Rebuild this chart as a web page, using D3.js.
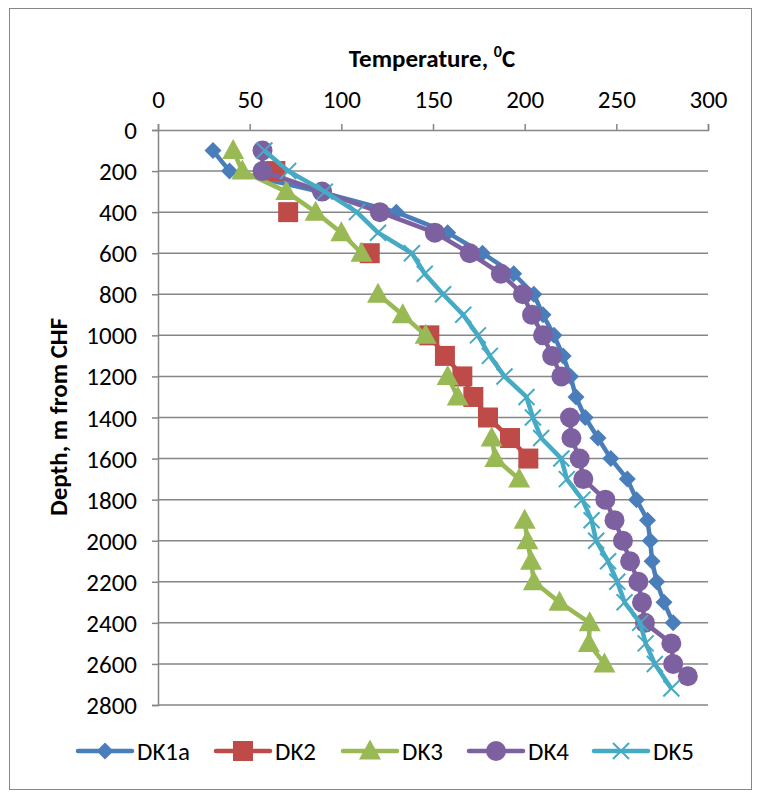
<!DOCTYPE html>
<html><head><meta charset="utf-8">
<script src="https://cdn.jsdelivr.net/npm/d3@7/dist/d3.min.js"></script>
<style>body{margin:0;background:#fff}svg{display:block}text{font-family:Carlito,Calibri,"Open Sans",sans-serif;fill:#000}</style>
</head><body><svg id="c" width="757" height="798"></svg>
<script>
// null = blank cell (gap in the line)
const seriesNames = ["DK1a","DK2","DK3","DK4","DK5"];
const dk1aDepth = [100,200,300,400,500,600,700,800,900,1000,1100,1200,1300,1400,1500,1600,1700,1800,1900,2000,2100,2200,2300,2400];
const dk1aTemp  = [30,39,88,130,158,177,194,205,210,216,221,225,228,233,240,247,256,261,267,268.5,269.5,272,276,281];
const dk2Depth = [200,300,400,500,600,700,1000,1100,1200,1300,1400,1500,1600];
const dk2Temp  = [64,null,71,null,115.5,null,148,156.5,166,172,180,192,202];
const dk3Depth = [100,200,300,400,500,600,700,800,900,1000,1100,1200,1300,1400,1500,1600,1700,1800,1900,2000,2100,2200,2300,2400,2500,2600];
const dk3Temp  = [41,46,70,86,100,111,null,120,133.5,146,null,158,163.5,null,182,184,197,null,200,201.5,203.5,205,219,235.5,235,243.5];
const dk4Depth = [100,200,300,400,500,600,700,800,900,1000,1100,1200,1300,1400,1500,1600,1700,1800,1900,2000,2100,2200,2300,2400,2500,2600,2660];
const dk4Temp  = [57,57,89.5,121,151,170,187,199,204,210,215,220,null,224.7,225.5,230,232,244,249,253.6,257.5,262,264,265.6,280,281,289];
const dk5Depth = [100,200,300,400,500,600,700,800,900,1000,1100,1200,1300,1400,1500,1600,1700,1800,1900,2000,2100,2200,2300,2400,2500,2600,2720];
const dk5Temp  = [58,71,91,108.5,120,138.5,145.5,155.5,166.5,174.5,181,189,201,204.5,209,220,223,231.5,236.5,239,245.5,250.5,254.5,263,266,271,280];
const xTicks = [0,50,100,150,200,250,300];
const yTicks = [0,200,400,600,800,1000,1200,1400,1600,1800,2000,2200,2400,2600,2800];

const colors = ["#4A7EBB","#BE4B48","#98B954","#7D60A0","#46AAC5"];
const shapes = ["diamond","square","triangle","circle","x"];
const series = [
  {d:dk1aDepth,t:dk1aTemp},{d:dk2Depth,t:dk2Temp},{d:dk3Depth,t:dk3Temp},
  {d:dk4Depth,t:dk4Temp},{d:dk5Depth,t:dk5Temp}
].map((s,i)=>({name:seriesNames[i],color:colors[i],shape:shapes[i],pts:s.d.map((v,j)=>({depth:v,temp:s.t[j]}))}));

const FS = 25;
const svg = d3.select("#c");
svg.append("rect").attr("x",9.5).attr("y",8.5).attr("width",742).attr("height",781)
  .attr("fill","#fff").attr("stroke","#868686").attr("stroke-width",1);

const L=158,R=708,T=130,B=705;
const x = d3.scaleLinear().domain([0,300]).range([L,R]);
const y = d3.scaleLinear().domain([0,2800]).range([T,B]);

svg.append("g").selectAll("line").data(yTicks.slice(1)).join("line")
  .attr("x1",L).attr("x2",R).attr("y1",d=>y(d)).attr("y2",d=>y(d))
  .attr("stroke","#868686").attr("stroke-width",1.5);

const xa = svg.append("g").attr("transform",`translate(0,${T})`)
  .call(d3.axisTop(x).tickValues(xTicks).tickSize(6).tickPadding(16).tickFormat(d3.format("d")));
const ya = svg.append("g").attr("transform",`translate(${L},0)`)
  .call(d3.axisLeft(y).tickValues(yTicks).tickSize(6).tickPadding(15).tickFormat(d3.format("d")));
[xa,ya].forEach(a=>{
  a.select(".domain").attr("stroke","#868686").attr("stroke-width",1.5);
  a.selectAll(".tick line").attr("stroke","#868686").attr("stroke-width",1.5);
  a.selectAll(".tick text").attr("font-size",FS).attr("fill","#000")
   .style("font-family",'Carlito,Calibri,"Open Sans",sans-serif');
});
ya.selectAll(".tick text").attr("dy","0.34em");

const tt = svg.append("text").attr("x",432).attr("y",67).attr("text-anchor","middle")
  .attr("font-size",FS).attr("font-weight","bold");
tt.append("tspan").text("Temperature, ");
tt.append("tspan").attr("font-size",16).attr("dy",-10).text("0");
tt.append("tspan").attr("dy",10).text("C");
svg.append("text").attr("transform","translate(67,417) rotate(-90)").attr("text-anchor","middle")
  .attr("font-size",FS).attr("font-weight","bold").text("Depth, m from CHF");

function marker(g, shape, color){
  if(shape==="diamond") g.append("path").attr("d","M0,-8.5L8.5,0L0,8.5L-8.5,0Z").attr("fill",color);
  else if(shape==="square") g.append("rect").attr("x",-10).attr("y",-10).attr("width",20).attr("height",20).attr("fill",color);
  else if(shape==="triangle") g.append("path").attr("d","M0,-11.5L11,8.5L-11,8.5Z").attr("fill",color);
  else if(shape==="circle") g.append("circle").attr("r",10).attr("fill",color);
  else g.append("path").attr("d","M-8,-8L8,8M-8,8L8,-8").attr("stroke",color).attr("stroke-width",2).attr("fill","none");
}

const line = d3.line().defined(d=>d.temp!=null).x(d=>x(d.temp)).y(d=>y(d.depth));
series.forEach(s=>{
  const g = svg.append("g");
  g.append("path").datum(s.pts).attr("d",line).attr("fill","none")
    .attr("stroke",s.color).attr("stroke-width",4.5).attr("stroke-linejoin","round");
  g.selectAll("g.m").data(s.pts.filter(d=>d.temp!=null)).join("g").attr("class","m")
    .attr("transform",d=>`translate(${x(d.temp)},${y(d.depth)})`)
    .each(function(){ marker(d3.select(this), s.shape, s.color); });
});

const legX = [78,216,343,469,594];
const ly = 751;
series.forEach((s,i)=>{
  const g = svg.append("g").attr("transform",`translate(${legX[i]},${ly})`);
  g.append("line").attr("x1",0).attr("x2",54).attr("stroke",s.color).attr("stroke-width",4.5).attr("stroke-linecap","round");
  const m = g.append("g").attr("transform","translate(27,0)");
  marker(m, s.shape, s.color);
  g.append("text").attr("x",59).attr("y",0).attr("dy","0.34em").attr("font-size",FS).text(s.name);
});
</script></body></html>
